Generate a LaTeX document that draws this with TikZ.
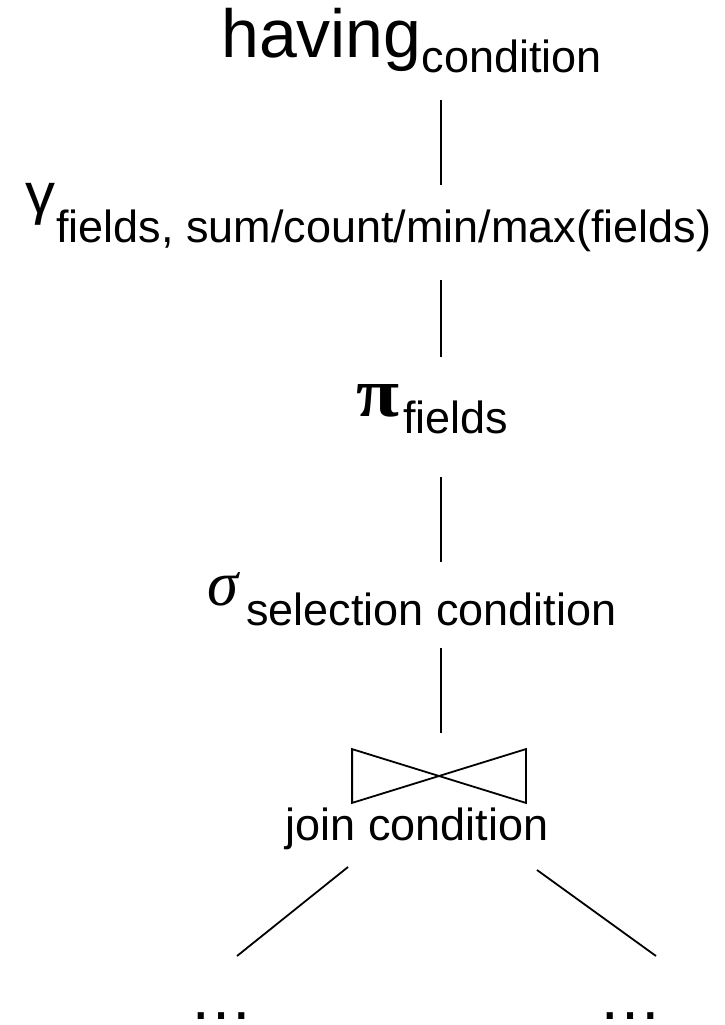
\documentclass[tikz,border=0pt]{standalone}
\usepackage{fontspec}
\setmainfont{Liberation Sans}
\newfontfamily\greekserif{Liberation Serif}
\usepackage{graphicx}
\usepackage{tikz}

\tikzset{
  opbig/.style={inner sep=0pt, font=\fontsize{68}{80}\selectfont},
  opsub/.style={inner sep=0pt, font=\fontsize{45}{52}\selectfont},
  tree/.style={line width=1.8pt}
}

\begin{document}
\begin{tikzpicture}[x=1pt, y=-1pt]
\useasboundingbox (0,0) rectangle (725,1025);

% operators, top to bottom
\node[opbig, anchor=base west] (having) at (221,58) {having{\fontsize{45}{52}\selectfont\raisebox{-14pt}{condition}}};
\node[inner sep=0pt] (gamma) at (40,204) {\resizebox*{30pt}{42pt}{γ}};
\node[opsub, anchor=base west] (gamma_sub) at (56,242) {fields, sum/count/min/max(fields)};
\node[inner sep=0pt] (pi) at (378.5,401) {\resizebox{43pt}{32pt}{\greekserif\bfseries π}};
\node[opsub, anchor=base west] (pi_sub) at (403,433) {fields};
\node[inner sep=0pt] (sigma) at (222.5,589) {\resizebox{31pt}{33pt}{\greekserif\itshape σ}};
\node[opsub, anchor=base west] (sigma_sub) at (246,625) {selection condition};
\node[tree, minimum width=172pt, minimum height=52pt, inner sep=0pt] (join) at (439,776) {};
\node[opsub, anchor=base] (join_sub) at (417,840) {join condition};
\node[inner sep=0pt, text depth=0pt, anchor=base, font=\fontsize{64}{70}\selectfont] (left) at (221,1019) {…};
\node[inner sep=0pt, text depth=0pt, anchor=base, font=\fontsize{64}{70}\selectfont] (right) at (630.5,1019) {…};

% ends of the connectors
\coordinate (t_1a) at (441,100);
\coordinate (t_1b) at (441,185);
\coordinate (t_2a) at (441,280);
\coordinate (t_2b) at (441,357);
\coordinate (t_3a) at (441,477);
\coordinate (t_3b) at (441,562);
\coordinate (t_4a) at (441,648);
\coordinate (t_4b) at (441,733);
\coordinate (l_a) at (348,867);
\coordinate (l_b) at (237,956);
\coordinate (r_a) at (537,870);
\coordinate (r_b) at (656,956);

% bowtie
\draw[tree] (join.north west) -- (join.south west) -- (join.north east) -- (join.south east) -- cycle;

\path[tree] (t_1a) edge (t_1b)
    (t_2a) edge (t_2b)
    (t_3a) edge (t_3b)
    (t_4a) edge (t_4b)
    (l_a) edge (l_b)
    (r_a) edge (r_b);
\end{tikzpicture}
\end{document}
